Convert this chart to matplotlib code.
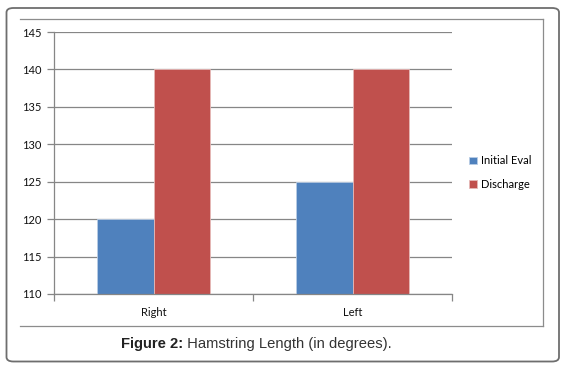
import numpy as np
import matplotlib
matplotlib.use("Agg")
import matplotlib.pyplot as plt
from matplotlib.patches import FancyBboxPatch
from matplotlib.lines import Line2D

categories = ["Right", "Left"]
initial_eval = [120, 125]
discharge = [140, 140]
series_names = ["Initial Eval", "Discharge"]
yticks = [110, 115, 120, 125, 130, 135, 140, 145]

blue = "#4F81BD"
red = "#C0504D"
grid_col = "#868686"

W, H = 574, 369
fig = plt.figure(figsize=(W / 100, H / 100), dpi=100)

# outer rounded frame
frame = FancyBboxPatch((6.5 / W, 7.5 / H), (559 - 6.5) / W, (361 - 7.5) / H,
                       boxstyle="round,pad=0,rounding_size=0.012",
                       transform=fig.transFigure, fill=False,
                       edgecolor="#6e6e6e", linewidth=1.3)
fig.patches.append(frame)

# inner chart box (top, right, bottom)
def hline(x0, x1, y):
    fig.add_artist(Line2D([x0 / W, x1 / W], [1 - y / H, 1 - y / H],
                          color="#8c8c8c", linewidth=0.9))

def vline(x, y0, y1):
    fig.add_artist(Line2D([x / W, x / W], [1 - y0 / H, 1 - y1 / H],
                          color="#8c8c8c", linewidth=0.9))

hline(20, 542.5, 18.5)
hline(20, 542.5, 326)
vline(542.5, 18.5, 326)

ax = fig.add_axes([54 / W, 1 - 294 / H, (452 - 54) / W, (294 - 32) / H])

x = np.arange(len(categories))
bw = 0.284
ax.bar(x - bw / 2, np.array(initial_eval) - 110, bw, bottom=110, color=blue,
       edgecolor="#b9cde5", linewidth=0.6, label=series_names[0], zorder=3)
ax.bar(x + bw / 2, np.array(discharge) - 110, bw, bottom=110, color=red,
       edgecolor="#e6b9b8", linewidth=0.6, label=series_names[1], zorder=3)

ax.set_xlim(-0.5, 1.5)
ax.set_ylim(110, 145)
ax.set_yticks(yticks)
ax.set_xticks(x)
ax.set_xticklabels(categories)
ax.set_xticks([-0.5, 0.5, 1.5], minor=True)
ax.tick_params(axis="x", which="major", length=0, pad=9)
ax.tick_params(axis="x", which="minor", length=5, color=grid_col, width=0.9)
ax.tick_params(axis="y", length=5, color=grid_col, width=0.9, pad=4)
for lab in ax.get_xticklabels() + ax.get_yticklabels():
    lab.set_fontfamily("Lato")
    lab.set_fontsize(8)
    lab.set_color("#111111")

ax.yaxis.grid(True, color=grid_col, linewidth=0.9, zorder=0)
ax.set_axisbelow(True)
for s in ["top", "right"]:
    ax.spines[s].set_visible(False)
for s in ["left", "bottom"]:
    ax.spines[s].set_color(grid_col)
    ax.spines[s].set_linewidth(0.9)
ax.spines["bottom"].set_zorder(4)

leg = fig.legend(loc="upper left", bbox_to_anchor=(465 / W, 1 - 151 / H),
                 frameon=False, prop={"family": "Lato", "size": 8},
                 handlelength=0.7, handleheight=0.7, handletextpad=0.3,
                 labelspacing=1.1, borderaxespad=0)

# caption: bold prefix + normal text, centred as one line
cap_bold = "Figure 2:"
cap_rest = " Hamstring Length (in degrees)."
renderer = fig.canvas.get_renderer()
t1 = fig.text(0, 0, cap_bold, fontsize=10.6, family="Liberation Sans",
              fontweight="bold", color="#222222", va="center")
t2 = fig.text(0, 0, cap_rest, fontsize=10.6, family="Liberation Sans",
              color="#333333", va="center")
w1 = t1.get_window_extent(renderer).width
w2 = t2.get_window_extent(renderer).width
x0 = 256 - (w1 + w2) / 2
yc = 1 - 344 / H
t1.set_position((x0 / W, yc))
t2.set_position(((x0 + w1) / W, yc))

fig.savefig("out.png", dpi=100)
